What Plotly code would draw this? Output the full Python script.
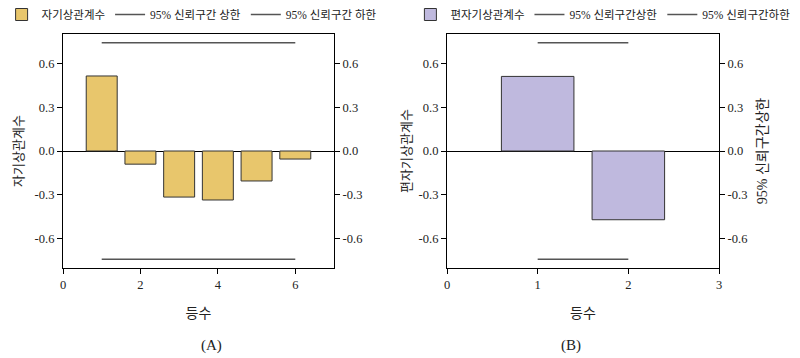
import plotly.graph_objects as go

# ---- data ----
lags_a = [1, 2, 3, 4, 5, 6]
acf_vals = [0.513, -0.09, -0.315, -0.335, -0.205, -0.055]
lags_b = [1, 2]
pacf_vals = [0.51, -0.47]
ci_upper = 0.74
ci_lower = -0.74

ytick_vals = [-0.6, -0.3, 0.0, 0.3, 0.6]
ytick_text = ["-0.6", "-0.3", "0.0", "0.3", "0.6"]
xtick_a = [0, 2, 4, 6]
xtick_b = [0, 1, 2, 3]

name_acf = "자기상관계수"
name_pacf = "편자기상관계수"
name_up_a = "95% 신뢰구간 상한"
name_lo_a = "95% 신뢰구간 하한"
name_up_b = "95% 신뢰구간상한"
name_lo_b = "95% 신뢰구간하한"
xtitle = "등수"
captions = ["(A)", "(B)"]

FONT = "Tinos, Liberation Serif, DejaVu Serif, serif"
LFONT = "Tinos, Liberation Serif, DejaVu Serif, Noto Sans CJK KR"
KFONT = "Noto Sans CJK KR"
GOLD = "#E8C66C"
LAV = "#BFB9DE"
CI = "#555555"

fig = go.Figure()

# Panel A
fig.add_trace(go.Bar(x=lags_a, y=acf_vals, name=name_acf, width=0.8,
                     marker=dict(color=GOLD, line=dict(color="#333333", width=1)),
                     xaxis="x", yaxis="y", legend="legend"))
fig.add_trace(go.Scatter(x=[lags_a[0], lags_a[-1]], y=[ci_upper, ci_upper], mode="lines",
                         name=name_up_a, line=dict(color=CI, width=1.5),
                         xaxis="x", yaxis="y3", legend="legend"))
fig.add_trace(go.Scatter(x=[lags_a[0], lags_a[-1]], y=[ci_lower, ci_lower], mode="lines",
                         name=name_lo_a, line=dict(color=CI, width=1.5),
                         xaxis="x", yaxis="y3", legend="legend"))

# Panel B
fig.add_trace(go.Bar(x=lags_b, y=pacf_vals, name=name_pacf, width=0.8,
                     marker=dict(color=LAV, line=dict(color="#333333", width=1)),
                     xaxis="x2", yaxis="y2", legend="legend2"))
fig.add_trace(go.Scatter(x=[lags_b[0], lags_b[-1]], y=[ci_upper, ci_upper], mode="lines",
                         name=name_up_b, line=dict(color=CI, width=1.5),
                         xaxis="x2", yaxis="y4", legend="legend2"))
fig.add_trace(go.Scatter(x=[lags_b[0], lags_b[-1]], y=[ci_lower, ci_lower], mode="lines",
                         name=name_lo_b, line=dict(color=CI, width=1.5),
                         xaxis="x2", yaxis="y4", legend="legend2"))

W, H = 800, 358
xa = [63 / W, 334 / W]
xb = [447 / W, 719 / W]
yd = [(H - 268) / H, (H - 34) / H]

axcommon = dict(showline=True, linecolor="black", linewidth=1.2, ticks="outside",
                ticklen=5, tickcolor="black", tickwidth=1.2, showgrid=False,
                tickfont=dict(family=FONT, size=12.5, color="#222"))

yax = dict(axcommon, range=[-0.8, 0.8], tickvals=ytick_vals, ticktext=ytick_text,
           zeroline=True, zerolinecolor="black", zerolinewidth=1.2, domain=yd)

fig.update_layout(
    width=W, height=H,
    margin=dict(l=0, r=0, t=0, b=0, autoexpand=False),
    paper_bgcolor="white", plot_bgcolor="white",
    font=dict(family=FONT, size=13, color="#222"),
    bargap=0.2,
    xaxis=dict(axcommon, domain=xa, range=[0, 7], tickvals=xtick_a, anchor="y",
               mirror=True, zeroline=False,
               title=dict(text=xtitle, font=dict(family=KFONT, size=14), standoff=17)),
    xaxis2=dict(axcommon, domain=xb, range=[0, 3], tickvals=xtick_b, anchor="y2",
                mirror=True, zeroline=False,
                title=dict(text=xtitle, font=dict(family=KFONT, size=14), standoff=17)),
    yaxis=dict(yax, anchor="x",
               title=dict(text=name_acf, font=dict(family=KFONT, size=13), standoff=8)),
    yaxis2=dict(yax, anchor="x2",
                title=dict(text=name_pacf, font=dict(family=KFONT, size=13), standoff=4)),
    yaxis3=dict(yax, anchor="x", overlaying="y", side="right", zeroline=False),
    yaxis4=dict(yax, anchor="x2", overlaying="y2", side="right", zeroline=False,
                title=dict(text=name_up_b, font=dict(family=LFONT, size=14), standoff=10)),
    legend=dict(orientation="h", x=0.002, y=1.0, xanchor="left", yanchor="top",
                font=dict(family=LFONT, size=11.5, color="#222"), bgcolor="rgba(0,0,0,0)",
                itemwidth=30, tracegroupgap=0),
    legend2=dict(orientation="h", x=0.513, y=1.0, xanchor="left", yanchor="top",
                 font=dict(family=LFONT, size=11.5, color="#222"), bgcolor="rgba(0,0,0,0)",
                 itemwidth=30, tracegroupgap=0),
    annotations=[
        dict(text=captions[0], x=(xa[0] + xa[1]) / 2, y=(H - 345) / H, xref="paper",
             yref="paper", yanchor="middle", showarrow=False,
             font=dict(family=FONT, size=15, color="#222")),
        dict(text=captions[1], x=(xb[0] + xb[1]) / 2, y=(H - 345) / H, xref="paper",
             yref="paper", yanchor="middle", showarrow=False,
             font=dict(family=FONT, size=15, color="#222")),
    ],
)

fig.write_html("out.html", config={"displayModeBar": False},
               post_script="document.body.style.margin='0';")
